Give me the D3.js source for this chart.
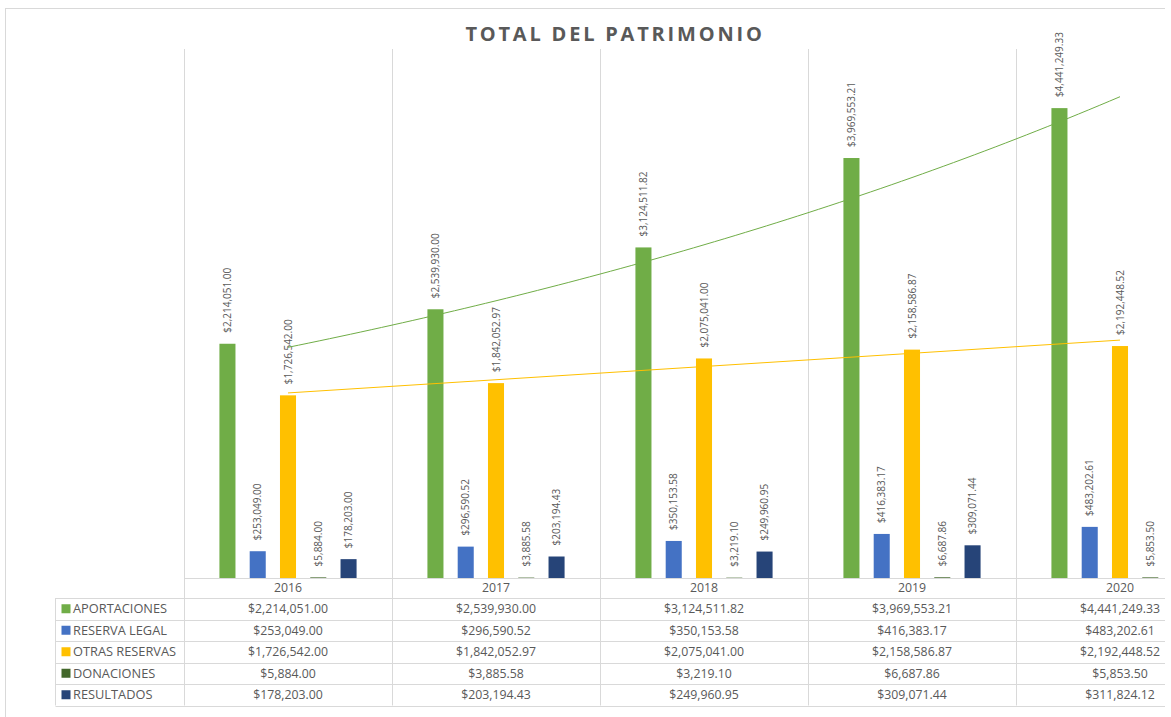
<!DOCTYPE html>
<html>
<head>
<meta charset="utf-8">
<script src="https://cdn.jsdelivr.net/npm/d3@7"></script>
<style>
  body { margin: 0; background: #fff; }
  text { font-family: "Open Sans", "Noto Sans", sans-serif; fill: #595959; }
</style>
</head>
<body>
<div id="chart"></div>
<script>
// data
var years = ["2016", "2017", "2018", "2019", "2020"];
var seriesNames = ["APORTACIONES", "RESERVA LEGAL", "OTRAS RESERVAS", "DONACIONES", "RESULTADOS"];
var aportaciones = [2214051.00, 2539930.00, 3124511.82, 3969553.21, 4441249.33];
var reservaLegal = [253049.00, 296590.52, 350153.58, 416383.17, 483202.61];
var otrasReservas = [1726542.00, 1842052.97, 2075041.00, 2158586.87, 2192448.52];
var donaciones = [5884.00, 3885.58, 3219.10, 6687.86, 5853.50];
var resultados = [178203.00, 203194.43, 249960.95, 309071.44, 311824.12];
var seriesColors = ["#70ad47", "#4472c4", "#ffc000", "#43682b", "#264478"];
var yTicks = [0, 5000000];

var seriesValues = [aportaciones, reservaLegal, otrasReservas, donaciones, resultados];

var W = 1171, H = 717;
var visibleW = 1165; // the chart object is cut off on the right
var plot = { left: 184, right: 1224, top: 49, bottom: 578 };
var rowTop = 598, rowH = 21.5, legendLeft = 55.5;

var svg = d3.select("#chart").append("svg")
  .attr("width", W)
  .attr("height", H);

svg.append("clipPath").attr("id", "clip")
  .append("rect").attr("x", 0).attr("y", 0).attr("width", visibleW).attr("height", H);

var g = svg.append("g").attr("clip-path", "url(#clip)");

// outer chart border (right side is cut off in the picture)
g.append("rect")
  .attr("x", 5.5).attr("y", 8.5)
  .attr("width", 1300).attr("height", 800)
  .attr("fill", "none")
  .attr("stroke", "#d9d9d9");

var x = d3.scaleBand()
  .domain(years)
  .range([plot.left, plot.right]);

var x1 = d3.scaleBand()
  .domain(seriesNames)
  .range([0, x.bandwidth()])
  .paddingInner(0.47)
  .paddingOuter(1.17);

var y = d3.scaleLinear()
  .domain(d3.extent(yTicks))
  .range([plot.bottom, plot.top]);

// title
g.append("text")
  .attr("x", 615)
  .attr("y", 41)
  .attr("text-anchor", "middle")
  .style("font-size", "20px")
  .style("font-weight", "bold")
  .style("letter-spacing", "2.8px")
  .text("TOTAL DEL PATRIMONIO");

var lineColor = "#d9d9d9";

// vertical category lines, they run down through the data table
var edges = years.map(function (d) { return x(d); }).concat([plot.right]);
g.selectAll("vline")
  .data(edges)
  .enter()
  .append("line")
  .attr("x1", function (d) { return Math.round(d) + 0.5; })
  .attr("x2", function (d) { return Math.round(d) + 0.5; })
  .attr("y1", plot.top)
  .attr("y2", rowTop + rowH * seriesNames.length)
  .attr("stroke", lineColor);

// bars
var cells = [];
seriesNames.forEach(function (s, i) {
  years.forEach(function (yr, j) {
    cells.push({ series: s, idx: i, year: yr, value: seriesValues[i][j] });
  });
});
function barCenter(d) { return x(d.year) + x1(d.series) + x1.bandwidth() / 2; }
var shown = cells.filter(function (d) { return barCenter(d) < visibleW; });

g.selectAll("bar")
  .data(shown)
  .enter()
  .append("rect")
  .attr("x", function (d) { return x(d.year) + x1(d.series); })
  .attr("y", function (d) { return y(d.value); })
  .attr("width", x1.bandwidth())
  .attr("height", function (d) { return y(0) - y(d.value); })
  .attr("fill", function (d) { return seriesColors[d.idx]; });

// rotated data labels
var fmt = d3.format("$,.2f");
g.selectAll("lbl")
  .data(shown)
  .enter()
  .append("text")
  .attr("transform", function (d) {
    return "translate(" + barCenter(d) + "," + (y(d.value) - 11) + ") rotate(-90)";
  })
  .attr("dy", "0.35em")
  .style("font-size", "10px")
  .text(function (d) { return fmt(d.value); });

// trendlines: exponential for APORTACIONES, linear for OTRAS RESERVAS
var xs = years.map(function (d, i) { return i + 1; });
function linFit(xv, yv) {
  var mx = d3.mean(xv), my = d3.mean(yv);
  var num = d3.sum(xv, function (v, i) { return (v - mx) * (yv[i] - my); });
  var den = d3.sum(xv, function (v) { return (v - mx) * (v - mx); });
  var b = num / den;
  return { a: my - b * mx, b: b };
}
var expFit = linFit(xs, aportaciones.map(Math.log));
var lin = linFit(xs, otrasReservas);

var xc = d3.scaleLinear()
  .domain([1, years.length])
  .range([x(years[0]) + x.bandwidth() / 2, x(years[years.length - 1]) + x.bandwidth() / 2]);

var steps = d3.range(1, years.length + 0.001, 0.05);
var trendLine = d3.line()
  .x(function (d) { return xc(d[0]); })
  .y(function (d) { return y(d[1]); });

g.append("path")
  .datum(steps.map(function (t) { return [t, Math.exp(expFit.a + expFit.b * t)]; }))
  .attr("d", trendLine)
  .attr("fill", "none")
  .attr("stroke", seriesColors[0])
  .attr("stroke-width", 1);

g.append("path")
  .datum([1, years.length].map(function (t) { return [t, lin.a + lin.b * t]; }))
  .attr("d", trendLine)
  .attr("fill", "none")
  .attr("stroke", seriesColors[2])
  .attr("stroke-width", 1);

// data table
// baseline / header top
g.append("line")
  .attr("x1", plot.left).attr("x2", plot.right)
  .attr("y1", plot.bottom + 0.5).attr("y2", plot.bottom + 0.5)
  .attr("stroke", lineColor);

var rowLines = d3.range(seriesNames.length + 1).map(function (i) { return rowTop + i * rowH; });
g.selectAll("hline")
  .data(rowLines)
  .enter()
  .append("line")
  .attr("x1", legendLeft).attr("x2", plot.right)
  .attr("y1", function (d) { return Math.round(d) + 0.5; })
  .attr("y2", function (d) { return Math.round(d) + 0.5; })
  .attr("stroke", lineColor);

g.append("line")
  .attr("x1", legendLeft).attr("x2", legendLeft)
  .attr("y1", rowTop).attr("y2", rowTop + rowH * seriesNames.length)
  .attr("stroke", lineColor);

// year headers
g.selectAll("yr")
  .data(years)
  .enter()
  .append("text")
  .attr("x", function (d) { return x(d) + x.bandwidth() / 2; })
  .attr("y", (plot.bottom + rowTop) / 2)
  .attr("dy", "0.36em")
  .attr("text-anchor", "middle")
  .style("font-size", "12.3px")
  .text(function (d) { return d; });

// legend keys + names
var legendRow = g.selectAll("legrow")
  .data(seriesNames)
  .enter()
  .append("g")
  .attr("transform", function (d, i) { return "translate(0," + (rowTop + i * rowH + rowH / 2) + ")"; });

legendRow.append("rect")
  .attr("x", 61.5).attr("y", -4.5)
  .attr("width", 9).attr("height", 9)
  .attr("fill", function (d, i) { return seriesColors[i]; });

legendRow.append("text")
  .attr("x", 73)
  .attr("dy", "0.36em")
  .style("font-size", "12.8px")
  .text(function (d) { return d; });

// table values
g.selectAll("cell")
  .data(cells)
  .enter()
  .append("text")
  .attr("x", function (d) { return x(d.year) + x.bandwidth() / 2; })
  .attr("y", function (d) { return rowTop + d.idx * rowH + rowH / 2; })
  .attr("dy", "0.36em")
  .attr("text-anchor", "middle")
  .style("font-size", "12.3px")
  .text(function (d) { return fmt(d.value); });
</script>
</body>
</html>
